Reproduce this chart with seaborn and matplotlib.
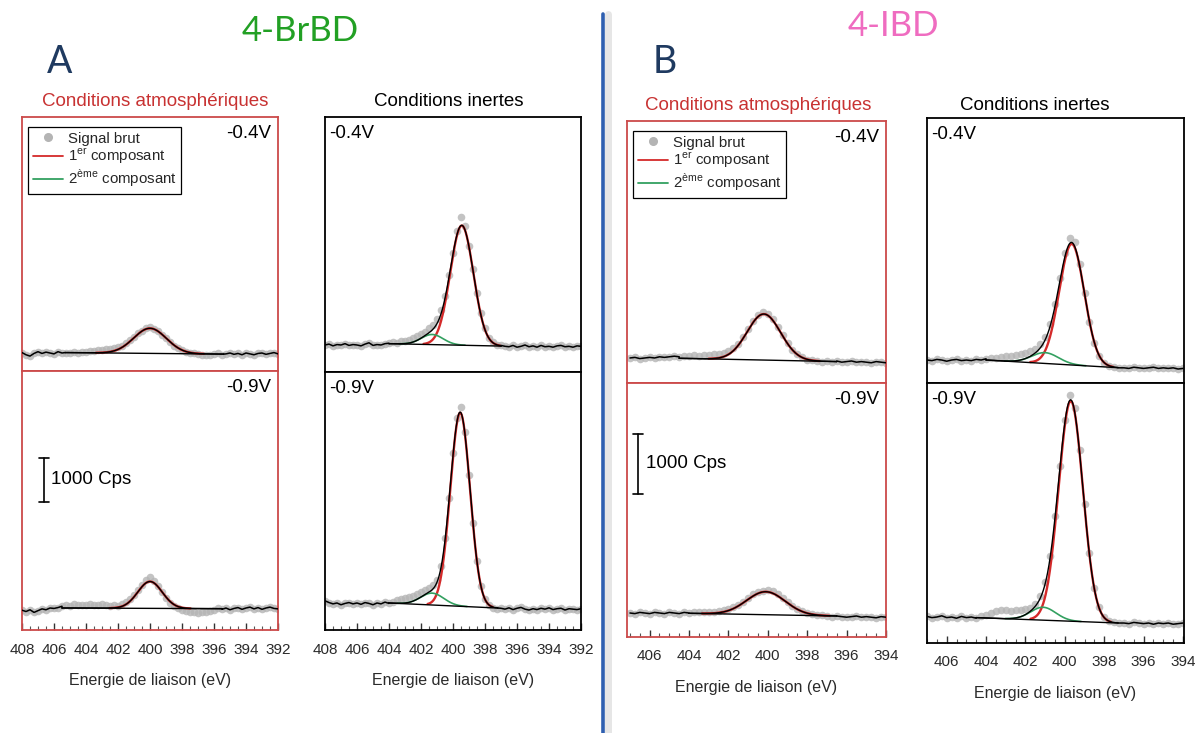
import numpy as np
import matplotlib
matplotlib.use("Agg")
import matplotlib.pyplot as plt
from matplotlib.lines import Line2D
from matplotlib.ticker import MultipleLocator
from matplotlib.transforms import blended_transform_factory
import seaborn as sns

# ---------------- data ----------------
E_STEP = 0.25
E_START_A = 408.0
E_START_B = 407.0

# raw signal (Cps), one value every 0.25 eV, from high to low binding energy
raw_A_atm_04 = [
    2010, 1960, 1930, 1990, 2030, 1990, 2020, 2000,
    1980, 2030, 2000, 2010, 1990, 2020, 2010, 2030,
    2020, 2040, 2050, 2070, 2060, 2080, 2100, 2110,
    2130, 2170, 2220, 2290, 2370, 2450, 2510, 2560,
    2580, 2540, 2490, 2420, 2350, 2250, 2170, 2110,
    2060, 2030, 2010, 1990, 1970, 1960, 1950, 1960,
    1970, 1990, 1960, 1980, 2000, 1970, 1990, 1960,
    2000, 1980, 1960, 1990, 2000, 1970, 1990, 2010,
    1980]
raw_A_atm_09 = [
    1950, 1920, 1960, 1900, 1940, 1980, 1960, 2000,
    1990, 2010, 2040, 2060, 2050, 2080, 2060, 2070,
    2060, 2080, 2070, 2060, 2080, 2070, 2050, 2070,
    2050, 2090, 2130, 2200, 2300, 2420, 2530, 2630,
    2700, 2620, 2490, 2360, 2230, 2120, 2040, 1990,
    1960, 1940, 1920, 1900, 1890, 1900, 1910, 1930,
    1950, 1990, 1970, 2000, 1960, 1990, 2010, 1970,
    2000, 2020, 1980, 2010, 1970, 2000, 2020, 1990,
    1980]
raw_A_inert_04 = [
    2000, 2020, 1980, 2010, 2000, 2030, 1990, 2010,
    2000, 1980, 2020, 2050, 1990, 2010, 2000, 2030,
    2040, 2060, 2050, 2080, 2100, 2120, 2160, 2200,
    2250, 2300, 2380, 2460, 2580, 2800, 3120, 3580,
    4100, 4580, 4900, 4700, 4260, 3720, 3180, 2720,
    2380, 2170, 2060, 2010, 1990, 1970, 1960, 1990,
    1950, 1970, 2000, 1960, 1980, 1950, 1990, 1960,
    1970, 1950, 1980, 1990, 1960, 1970, 1950, 1980,
    1970]
raw_A_inert_09 = [
    2050, 2010, 1980, 2000, 1960, 1990, 2010, 1980,
    2000, 1970, 2010, 1990, 1960, 2000, 1980, 2020,
    1990, 2030, 2060, 2090, 2110, 2140, 2170, 2210,
    2250, 2290, 2340, 2400, 2530, 2850, 3470, 4380,
    5400, 6200, 6450, 5880, 4900, 3820, 2950, 2380,
    2080, 1950, 1890, 1870, 1880, 1860, 1890, 1850,
    1880, 1900, 1860, 1840, 1870, 1850, 1880, 1860,
    1890, 1850, 1870, 1880, 1840, 1870, 1860, 1850,
    1870]
raw_B_atm_04 = [
    2000, 2010, 1990, 2000, 2010, 2000, 2020, 2010,
    2020, 2030, 2020, 2040, 2030, 2050, 2040, 2050,
    2050, 2060, 2070, 2080, 2110, 2160, 2240, 2350,
    2480, 2610, 2710, 2760, 2740, 2650, 2520, 2380,
    2250, 2140, 2060, 2010, 1970, 1960, 1950, 1940,
    1950, 1940, 1950, 1930, 1940, 1950, 1930, 1940,
    1930, 1920, 1940, 1930, 1920]
raw_B_atm_09 = [
    2000, 1990, 2010, 2000, 1990, 2010, 2000, 1990,
    2010, 2000, 1990, 2010, 2000, 2010, 2020, 2010,
    2010, 2020, 2030, 2050, 2070, 2100, 2140, 2190,
    2250, 2310, 2350, 2370, 2380, 2360, 2310, 2250,
    2180, 2120, 2070, 2030, 2000, 1980, 1970, 1960,
    1950, 1940, 1950, 1940, 1930, 1940, 1950, 1930,
    1940, 1930, 1920, 1940, 1930]
raw_B_inert_04 = [
    2000, 1990, 2010, 2000, 1980, 2000, 2010, 1990,
    2000, 1990, 2010, 2000, 2020, 2030, 2040, 2050,
    2060, 2070, 2080, 2100, 2120, 2150, 2190, 2260,
    2380, 2600, 2940, 3370, 3780, 4030, 3960, 3600,
    3110, 2640, 2280, 2060, 1950, 1900, 1880, 1870,
    1870, 1860, 1880, 1870, 1860, 1870, 1880, 1860,
    1870, 1860, 1870, 1850, 1860]
raw_B_inert_09 = [
    2010, 1990, 2000, 2020, 1990, 2000, 1980, 2010,
    1990, 2000, 1980, 2010, 2040, 2070, 2100, 2110,
    2110, 2100, 2110, 2120, 2130, 2150, 2220, 2350,
    2580, 3010, 3680, 4520, 5290, 5700, 5480, 4780,
    3880, 3060, 2490, 2170, 2000, 1940, 1910, 1900,
    1900, 1890, 1910, 1900, 1890, 1900, 1880, 1900,
    1890, 1900, 1880, 1890, 1900]

# fitted components: (centre eV, height above background Cps, FWHM eV)
comp1 = {
    "A_atm_04": (400.0, 570, 2.4), "A_atm_09": (400.0, 610, 1.8),
    "A_inert_04": (399.45, 2720, 1.7), "A_inert_09": (399.55, 4400, 1.45),
    "B_atm_04": (400.2, 767, 2.0), "B_atm_09": (400.1, 383, 2.3),
    "B_inert_04": (399.65, 2017, 1.5), "B_inert_09": (399.7, 3670, 1.45),
}
comp2 = {
    "A_inert_04": (401.3, 230, 1.6), "A_inert_09": (401.3, 270, 1.7),
    "B_inert_04": (401.0, 180, 1.6), "B_inert_09": (401.1, 215, 1.5),
}
# fit window and background: (E high, E low, background at E high, at E low)
fit_window = {
    "A_atm_04": (405.3, 395.4, 2010, 1975), "A_atm_09": (405.5, 395.5, 2000, 1985),
    "A_inert_04": (404.0, 397.0, 2030, 1975), "A_inert_09": (404.0, 397.2, 2000, 1885),
    "B_atm_04": (404.5, 396.5, 1995, 1940), "B_atm_09": (404.0, 396.5, 1995, 1950),
    "B_inert_04": (404.0, 397.3, 2000, 1872), "B_inert_09": (404.5, 397.3, 1990, 1900),
}
raw = {
    "A_atm_04": raw_A_atm_04, "A_atm_09": raw_A_atm_09,
    "A_inert_04": raw_A_inert_04, "A_inert_09": raw_A_inert_09,
    "B_atm_04": raw_B_atm_04, "B_atm_09": raw_B_atm_09,
    "B_inert_04": raw_B_inert_04, "B_inert_09": raw_B_inert_09,
}
voltages = ["-0.4V", "-0.9V"]
legend_labels = ["Signal brut", r"1$^{\mathregular{er}}$ composant",
                 r"2$^{\mathregular{ème}}$ composant"]
ticks_A = [408, 406, 404, 402, 400, 398, 396, 394, 392]
ticks_B = [406, 404, 402, 400, 398, 396, 394]
scale_cps = 1000

# ---------------- style ----------------
sns.set_theme(style="white")
plt.rcParams["font.family"] = ["Liberation Sans", "DejaVu Sans"]
plt.rcParams["mathtext.fontset"] = "custom"
plt.rcParams["mathtext.rm"] = "Liberation Sans"

W, H = 1198, 733
RED = "#d42a2a"
GREEN = "#33a060"
GRAY = "#b4b4b4"
FRAME_RED = "#cc4a4a"
TXT = "#2a2a2a"

fig = plt.figure(figsize=(W / 100, H / 100), dpi=100)
fig.patch.set_facecolor("white")


def fpos(x, y):
    return x / W, 1 - y / H


def add_ax(x0, y0, x1, y1):
    return fig.add_axes([x0 / W, 1 - y1 / H, (x1 - x0) / W, (y1 - y0) / H])


def gauss(e, c, h, w):
    return h * np.power(2.0, -4.0 * ((e - c) / w) ** 2)


# layout: key -> (x0, y0, x1, y1) in px, ylim, e_start, xlim, frame color, is bottom
layout = {
    "A_atm_04": ((22, 117, 278, 371), (1591, 7364), E_START_A, (408, 392), FRAME_RED, False),
    "A_atm_09": ((22, 371, 278, 630), (1500, 7387), E_START_A, (408, 392), FRAME_RED, True),
    "A_inert_04": ((325, 117, 581, 372), (1386, 7182), E_START_A, (408, 392), "black", False),
    "A_inert_09": ((325, 372, 581, 630), (1386, 7251), E_START_A, (408, 392), "black", True),
    "B_atm_04": ((627, 121, 886, 383), (1583, 5950), E_START_B, (407.15, 394), FRAME_RED, False),
    "B_atm_09": ((627, 383, 886, 637), (1600, 5834), E_START_B, (407.15, 394), FRAME_RED, True),
    "B_inert_04": ((927, 118, 1184, 383), (1617, 6033), E_START_B, (407.0, 393.95), "black", False),
    "B_inert_09": ((927, 383, 1184, 643), (1567, 5900), E_START_B, (407.0, 393.95), "black", True),
}

axes = {}
for key, (box, ylim, e0, xlim, fcol, bottom) in layout.items():
    ax = add_ax(*box)
    axes[key] = ax
    y = np.asarray(raw[key], float)
    e = e0 - E_STEP * np.arange(y.size)
    hi, lo, bgh, bgl = fit_window[key]
    ef = np.linspace(hi, lo, 500)
    bg = bgh + (bgl - bgh) * (hi - ef) / (hi - lo)
    g1 = gauss(ef, *comp1[key])
    g2 = gauss(ef, *comp2[key]) if key in comp2 else np.zeros_like(ef)

    sns.scatterplot(x=e, y=y, ax=ax, color=GRAY, s=30, linewidth=0, alpha=0.8, zorder=1)
    m1 = g1 > 0.004 * comp1[key][1]
    sns.lineplot(x=ef[m1], y=(bg + g1)[m1], ax=ax, color=RED, lw=1.7, sort=False,
                 estimator=None, zorder=2)
    if key in comp2:
        m2 = g2 > 0.01 * comp2[key][1]
        sns.lineplot(x=ef[m2], y=(bg + g2)[m2], ax=ax, color=GREEN, lw=1.2, sort=False,
                     estimator=None, zorder=2)
    sns.lineplot(x=ef, y=bg + g1 + g2, ax=ax, color="black", lw=1.0, sort=False,
                 estimator=None, zorder=3)
    sns.lineplot(x=ef, y=bg, ax=ax, color="black", lw=1.0, sort=False, estimator=None, zorder=3)
    left = e >= hi
    right = e <= lo
    sns.lineplot(x=np.append(e[left], hi), y=np.append(y[left], bgh), ax=ax, color="black",
                 lw=1.1, sort=False, estimator=None, zorder=3)
    sns.lineplot(x=np.insert(e[right], 0, lo), y=np.insert(y[right], 0, bgl), ax=ax,
                 color="black", lw=1.1, sort=False, estimator=None, zorder=3)

    ax.set_xlim(*xlim)
    ax.set_ylim(*ylim)
    ax.set_yticks([])
    ax.set_ylabel("")
    for s in ax.spines.values():
        s.set_color(fcol)
        s.set_linewidth(1.3)
        s.set_visible(True)
    if bottom:
        ax.set_xticks(ticks_A if key.startswith("A") else ticks_B)
        ax.xaxis.set_minor_locator(MultipleLocator(0.5))
        ax.tick_params(axis="x", which="major", direction="in", length=5, width=1.0,
                       color="#333333", labelsize=11, labelcolor=TXT, pad=9, bottom=True)
        ax.tick_params(axis="x", which="minor", direction="in", length=3, width=0.8,
                       color="#555555", bottom=True)
        ax.set_xlabel("Energie de liaison (eV)", fontsize=11.5, color=TXT, labelpad=12)
    else:
        ax.set_xticks([])
        ax.set_xlabel("")

    is_atm = "atm" in key
    vtxt = voltages[0] if key.endswith("04") else voltages[1]
    if is_atm:
        ax.text(0.975, 0.97, vtxt, transform=ax.transAxes, ha="right", va="top",
                fontsize=13.5, color="black")
    else:
        ax.text(0.015, 0.97, vtxt, transform=ax.transAxes, ha="left", va="top",
                fontsize=13.5, color="black")

# legends
handles = [Line2D([], [], marker="o", ls="", color=GRAY, ms=5.5),
           Line2D([], [], color=RED, lw=1.3),
           Line2D([], [], color=GREEN, lw=1.3)]
for key, box in (("A_atm_04", (22, 117, 278, 371)), ("B_atm_04", (627, 121, 886, 383))):
    ax = axes[key]
    w = box[2] - box[0]
    h = box[3] - box[1]
    lg = ax.legend(handles, legend_labels, loc="upper left",
                   bbox_to_anchor=(6 / w, 1 - 10 / h), borderaxespad=0,
                   fontsize=10.8, frameon=True, fancybox=False, handlelength=2.0,
                   handletextpad=0.35, labelspacing=0.08, borderpad=0.3)
    lg.get_frame().set_edgecolor("black")
    lg.get_frame().set_linewidth(0.9)
    lg.get_frame().set_alpha(1)

# scale bars (1000 Cps)
for key, xb, ytop, xt in (("A_atm_09", (44 - 22) / 256, 5411, (51 - 22) / 256),
                          ("B_atm_09", (638 - 627) / 259, 4990, (646 - 627) / 259)):
    ax = axes[key]
    tr = blended_transform_factory(ax.transAxes, ax.transData)
    cap = 5 / 256
    ax.plot([xb, xb], [ytop, ytop - scale_cps], color="black", lw=1.2, transform=tr)
    ax.plot([xb - cap, xb + cap], [ytop, ytop], color="black", lw=1.2, transform=tr)
    ax.plot([xb - cap, xb + cap], [ytop - scale_cps] * 2, color="black", lw=1.2, transform=tr)
    ax.text(xt, ytop - scale_cps / 2, "1000 Cps", transform=tr, ha="left", va="center",
            fontsize=13.5, color="black")

# column titles
for x, y, t, c in ((155, 101, "Conditions atmosphériques", "#c83232"),
                   (449, 101, "Conditions inertes", "black"),
                   (758, 106, "Conditions atmosphériques", "#c83232"),
                   (1035, 106, "Conditions inertes", "black")):
    fig.text(*fpos(x, y), t, ha="center", va="center", fontsize=13.5, color=c)

# big titles and panel letters
fig.text(*fpos(300, 31), "4-BrBD", ha="center", va="center", fontsize=25,
         color="#22a024", family=["Lato", "DejaVu Sans"])
fig.text(*fpos(893, 26), "4-IBD", ha="center", va="center", fontsize=25,
         color="#ef6cc0", family=["Lato", "DejaVu Sans"])
fig.text(*fpos(60, 62), "A", ha="center", va="center", fontsize=27,
         color="#1f3a60", family=["Lato", "DejaVu Sans"])
fig.text(*fpos(665, 62), "B", ha="center", va="center", fontsize=27,
         color="#1f3a60", family=["Lato", "DejaVu Sans"])

# separator
fig.add_artist(Line2D([608 / W, 608 / W], [0, 1 - 14 / H], color="#e6e6e6", lw=5,
                      transform=fig.transFigure))
fig.add_artist(Line2D([603 / W, 603 / W], [0, 1 - 14 / H], color="#2f5fb0", lw=2.6,
                      transform=fig.transFigure))

fig.savefig("out.png", dpi=100, facecolor="white")
